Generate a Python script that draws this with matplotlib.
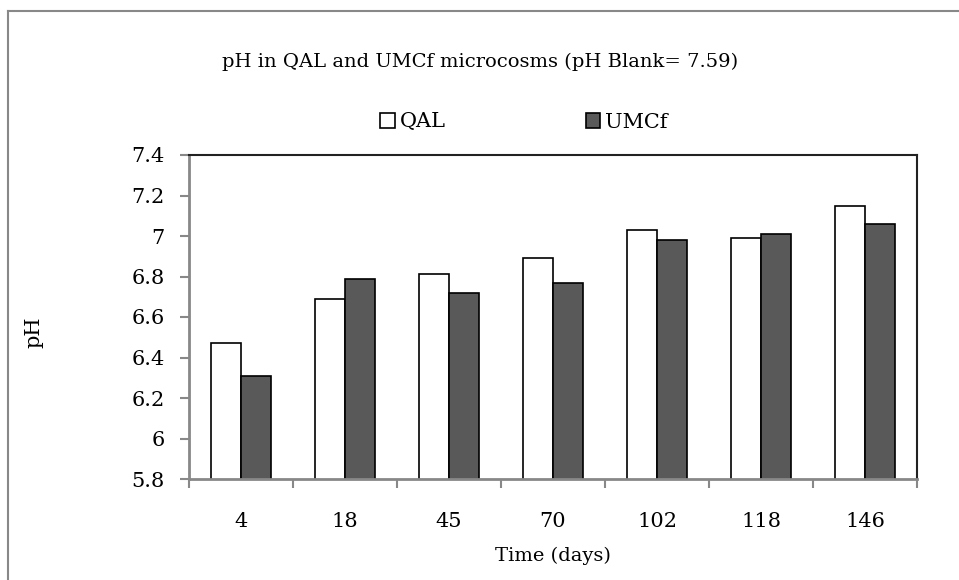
import matplotlib
matplotlib.use("Agg")
import matplotlib.pyplot as plt
from matplotlib.lines import Line2D
from matplotlib.patches import Patch
import numpy as np

# data
days = ["4", "18", "45", "70", "102", "118", "146"]
qal = [6.47, 6.69, 6.81, 6.89, 7.03, 6.99, 7.15]
umcf = [6.31, 6.79, 6.72, 6.77, 6.98, 7.01, 7.06]

plt.rcParams['font.family'] = ['DejaVu Serif']
grey = '#888888'

fig = plt.figure(figsize=(9.59, 5.80), dpi=100)
ax = fig.add_axes([189 / 959, 1 - 479 / 580, (917 - 189) / 959, (479 - 155) / 580])

x = np.arange(len(days))
w = 0.29
ax.bar(x - w / 2, qal, w, color='white', edgecolor='black', linewidth=1.2, label='QAL')
ax.bar(x + w / 2, umcf, w, color='#595959', edgecolor='black', linewidth=1.2, label='UMCf')

ax.set_ylim(5.8, 7.4)
ax.set_xlim(-0.5, len(days) - 0.5)
ax.set_yticks(np.arange(5.8, 7.41, 0.2))
ax.set_yticklabels(['5.8', '6', '6.2', '6.4', '6.6', '6.8', '7', '7.2', '7.4'])
ax.set_xticks(x)
ax.set_xticklabels(days)
ax.set_xticks(np.arange(-0.5, len(days), 1), minor=True)
ax.tick_params(axis='x', which='major', length=0, labelsize=15, pad=24)
ax.tick_params(axis='x', which='minor', length=6.5, color=grey, width=1.5)
ax.tick_params(axis='y', length=6.5, color=grey, width=1.5, labelsize=15, pad=11)

for s in ['left', 'bottom']:
    ax.spines[s].set_color(grey)
    ax.spines[s].set_linewidth(2)
for s in ['top', 'right']:
    ax.spines[s].set_color('#222222')
    ax.spines[s].set_linewidth(1.5)

fig.text(553 / 959, 1 - 556 / 580, 'Time (days)', fontsize=14, ha='center', va='center')
fig.text(34 / 959, 1 - 332 / 580, 'pH', rotation=90, fontsize=15, ha='center', va='center')
fig.text(480 / 959, 1 - 62 / 580, 'pH in QAL and UMCf microcosms (pH Blank= 7.59)',
         fontsize=14, ha='center', va='center')

handles = [Patch(facecolor='white', edgecolor='black', linewidth=1.2),
           Patch(facecolor='#595959', edgecolor='black', linewidth=1.2)]
fig.legend(handles, ['QAL', 'UMCf'], loc='center', bbox_to_anchor=(524 / 959, 1 - 122 / 580),
           ncol=2, frameon=False, fontsize=15, handlelength=0.7, handleheight=0.7,
           handletextpad=0.25, columnspacing=6.7, borderpad=0, borderaxespad=0)

# outer chart frame (top and left visible)
fig.add_artist(Line2D([8 / 959, 8 / 959], [0, 1 - 11 / 580], color=grey, lw=1.5))
fig.add_artist(Line2D([8 / 959, 1], [1 - 11 / 580, 1 - 11 / 580], color=grey, lw=1.5))

fig.savefig('out.png', dpi=100)
